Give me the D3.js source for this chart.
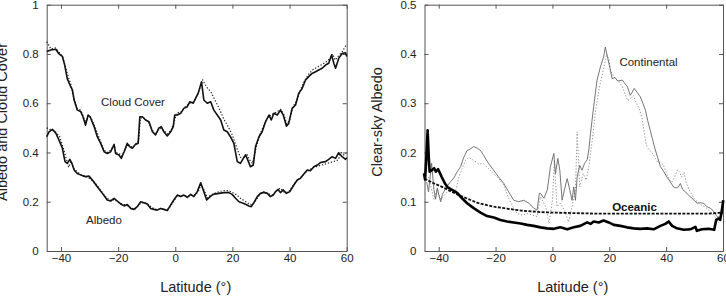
<!DOCTYPE html>
<html><head><meta charset="utf-8">
<script src="https://cdn.jsdelivr.net/npm/d3@7"></script>
<style>
html,body{margin:0;padding:0;background:#fff;}
svg{display:block;font-family:"Liberation Sans",Arial,sans-serif;}
</style></head>
<body>
<svg id="chart" width="726" height="297"></svg>
<script>
// ---------- Left panel data ----------
const cloudSolidLat = [-45,-43.6,-41.8,-40.7,-39.5,-38.7,-37.8,-36.6,-36,-35.4,-34.3,-33.1,-32.3,-31.4,-30.5,-29.8,-28.4,-27.3,-26.1,-24.9,-23.8,-22.6,-21.4,-20.9,-19.7,-18.9,-17.9,-16.8,-16,-15,-13.9,-13,-12.4,-11.5,-10.4,-9.2,-8,-6.9,-5.7,-4.9,-4,-2.8,-1.6,-0.7,-0.2,0.7,1.9,3,4.2,5.1,6.3,7.1,8,9.2,10,11.2,12.4,13.5,14.7,15.9,17,18.2,19.3,20.5,21.7,22.8,23.8,24.6,25.4,26.3,27.3,28.1,29.3,30.4,31.6,32.8,33.6,34.5,35.7,36.8,37.8,38.9,39.7,40.9,42.1,43.2,44.4,45.6,46.7,47.9,49.1,50.2,51.4,52.6,53.7,54.7,55.5,56.1,57.2,58.4,59.6,60];
const cloudSolid = [0.81,0.816,0.819,0.80,0.79,0.755,0.70,0.667,0.654,0.613,0.572,0.566,0.545,0.511,0.552,0.545,0.505,0.464,0.437,0.403,0.396,0.403,0.433,0.396,0.39,0.376,0.403,0.437,0.424,0.417,0.434,0.437,0.545,0.545,0.532,0.525,0.484,0.471,0.50,0.505,0.484,0.467,0.484,0.505,0.552,0.552,0.559,0.579,0.586,0.606,0.60,0.62,0.64,0.687,0.613,0.60,0.606,0.572,0.552,0.532,0.491,0.484,0.464,0.437,0.363,0.356,0.376,0.39,0.369,0.342,0.349,0.424,0.464,0.484,0.525,0.552,0.532,0.559,0.552,0.572,0.552,0.507,0.518,0.579,0.593,0.64,0.66,0.694,0.708,0.721,0.728,0.735,0.742,0.755,0.762,0.796,0.762,0.742,0.782,0.802,0.805,0.79];

const cloudDotLat = [-45,-43.5,-42,-40.5,-39.5,-38.5,-37.5,-36.5,-35.5,-34.3,-33,-32,-31.2,-30.5,-29.5,-28.3,-27,-26,-25,-23.8,-22.6,-21.4,-20.8,-19.5,-18.8,-17.8,-16.8,-15,-13.5,-12.8,-12.2,-11,-9.5,-8,-6.8,-5.5,-4,-2.8,-1.5,-0.5,0.5,2,3.5,5,6.5,8,9.6,11,12.5,14,15.5,17,18.5,20,21.5,22.8,24,25,26,27,28.3,29.5,31,32.5,34,35.5,37,38,39,40,41.2,42.5,43.5,45,46.5,48,49.5,51,52.5,54,55,56,57,58.5,60];
const cloudDot = [0.85,0.82,0.825,0.805,0.79,0.75,0.71,0.675,0.62,0.58,0.57,0.54,0.52,0.55,0.54,0.51,0.47,0.44,0.41,0.40,0.41,0.43,0.40,0.395,0.385,0.405,0.435,0.42,0.435,0.45,0.54,0.54,0.525,0.49,0.475,0.50,0.49,0.475,0.49,0.52,0.56,0.565,0.585,0.60,0.605,0.64,0.695,0.665,0.645,0.61,0.575,0.535,0.505,0.47,0.42,0.38,0.38,0.395,0.37,0.355,0.42,0.47,0.51,0.545,0.555,0.565,0.575,0.555,0.515,0.53,0.585,0.61,0.645,0.685,0.715,0.735,0.745,0.755,0.765,0.78,0.80,0.775,0.79,0.81,0.84];

const albedoSolidLat = [-45,-44.2,-43,-41.8,-40.7,-39.5,-38.6,-37.8,-36.9,-36.2,-35.4,-34.3,-32.5,-31.4,-30.2,-29,-27.3,-25.5,-23.8,-22.6,-21.4,-20.3,-19.1,-17.9,-16.8,-15.6,-14.5,-13.3,-12.1,-11,-9.8,-8.6,-7.5,-6.3,-5.1,-4,-2.8,-1.6,-0.5,0.7,1.9,3,4.2,5.4,6.5,7.7,8.9,10,11,12.4,13.5,15.3,17,18.8,19.9,21.1,22.3,24,25.8,26.6,27.5,28.7,29.8,31,32.2,33.3,34.3,35.1,36,36.8,37.8,38.9,40.1,41.5,42.7,43.8,45,46.2,47.3,48.5,49.7,50.8,52.6,53.7,54.9,56.1,57.2,58.4,59.6,60];
const albedoSolid = [0.464,0.484,0.494,0.478,0.45,0.417,0.363,0.356,0.372,0.356,0.329,0.315,0.306,0.302,0.304,0.288,0.261,0.234,0.207,0.203,0.214,0.203,0.191,0.183,0.189,0.173,0.169,0.18,0.20,0.196,0.191,0.173,0.169,0.166,0.173,0.169,0.164,0.187,0.207,0.227,0.221,0.227,0.218,0.23,0.221,0.241,0.277,0.241,0.207,0.223,0.231,0.234,0.237,0.237,0.23,0.214,0.20,0.193,0.183,0.18,0.196,0.221,0.234,0.238,0.234,0.221,0.227,0.241,0.25,0.237,0.248,0.234,0.241,0.268,0.288,0.295,0.313,0.329,0.326,0.342,0.349,0.359,0.363,0.372,0.383,0.376,0.399,0.383,0.372,0.379];

const albedoDotLat = [-45,-43.5,-42,-40.5,-39.5,-38.5,-37.3,-36.5,-35.5,-34,-32.5,-31,-29.5,-28,-26,-24,-22.5,-21.3,-20,-18.5,-17,-15.5,-14,-12.5,-11,-9.5,-8,-6.5,-5,-3.5,-2.5,-1.5,-0.5,0.8,2,3.2,4.5,5.8,7,8.2,9,10.2,11.2,12.5,14,15.5,17,18.5,20,21.5,23,24.5,26,27,28.2,29.5,31,32.5,34,35.5,36.7,38,39.5,41,42.5,44,45.5,47,48.5,50,51.5,53,54.5,56,57,58,59,60];
const albedoDot = [0.50,0.492,0.485,0.465,0.43,0.39,0.34,0.365,0.335,0.318,0.305,0.302,0.29,0.275,0.245,0.215,0.205,0.21,0.198,0.19,0.185,0.175,0.17,0.19,0.198,0.19,0.175,0.168,0.172,0.168,0.17,0.185,0.205,0.225,0.225,0.225,0.222,0.228,0.228,0.245,0.27,0.245,0.215,0.228,0.235,0.242,0.245,0.245,0.238,0.228,0.212,0.202,0.19,0.188,0.205,0.228,0.24,0.232,0.228,0.245,0.255,0.24,0.238,0.262,0.285,0.30,0.318,0.33,0.34,0.345,0.35,0.355,0.36,0.365,0.37,0.40,0.39,0.40];

// ---------- Right panel data ----------
const oceanSolidLat = [-45.2,-44.8,-44.4,-43.9,-43.5,-43.2,-42.5,-41.6,-41,-40.2,-39,-37.8,-36.8,-35.3,-33.5,-31.8,-30,-27.7,-25.3,-23,-20.6,-18.3,-15.9,-13.6,-11.2,-8.9,-6.6,-4.2,-1.9,0.5,2.8,5.2,7.5,9.8,12.2,13.4,14.5,16.3,18,19.8,21.6,23.9,26.2,28.6,30.9,33.3,35.6,38,39.7,40.9,42.1,43.8,46.2,48.5,50.3,50.8,52.6,54.9,56.9,57.6,58.5,59,59.6,60.1];
const oceanSolid = [0.158,0.145,0.185,0.245,0.19,0.161,0.164,0.168,0.161,0.166,0.151,0.137,0.129,0.124,0.118,0.107,0.097,0.087,0.078,0.071,0.068,0.063,0.06,0.058,0.056,0.053,0.051,0.048,0.046,0.045,0.048,0.044,0.048,0.051,0.058,0.055,0.06,0.058,0.062,0.058,0.053,0.051,0.048,0.046,0.045,0.046,0.044,0.051,0.055,0.06,0.051,0.046,0.043,0.044,0.049,0.041,0.044,0.045,0.043,0.063,0.066,0.063,0.083,0.103];

const oceanDashLat = [-45,-42,-38,-35,-32.3,-29,-26.5,-23,-20.6,-17,-14.8,-11,-8.9,-4,0,7,14.5,25,35,45,55,60];
const oceanDash = [0.147,0.138,0.128,0.119,0.112,0.104,0.098,0.093,0.09,0.087,0.085,0.082,0.081,0.079,0.078,0.077,0.076,0.076,0.076,0.076,0.076,0.078];

const contSolidLat = [-44.2,-43.6,-43,-42.5,-41.7,-41.1,-40.5,-39.9,-39.3,-38.7,-37.5,-35.8,-34.7,-33.5,-32.3,-31.2,-30,-28.9,-27.7,-26.5,-25.3,-24.2,-22.4,-20.7,-18.9,-17.1,-15.4,-13.6,-11.9,-10.1,-8.3,-6.6,-5.4,-4.6,-4.2,-3,-1.8,-0.7,0.5,1.05,1.9,2.6,3.4,4.2,5.2,6.1,6.9,7.5,8.1,8.7,9.6,10.4,11.3,12.2,12.8,13.4,14.5,15.7,16.9,18,18.6,19.5,20.3,21,22,23,24.6,25.5,26.4,27.4,28.8,29.8,30.9,31.8,32.7,33.5,34.4,35.3,36.2,37,38,39,40.3,41.5,42.6,43.5,44.3,45,45.8,46.7,48,49.1,50,50.9,52,53.2,54.3,55.5,56.5,57.9,58.8,59.6,60];
const contSolid = [0.14,0.12,0.15,0.178,0.125,0.105,0.128,0.112,0.10,0.115,0.128,0.141,0.148,0.161,0.171,0.19,0.204,0.207,0.212,0.209,0.204,0.194,0.177,0.164,0.15,0.137,0.12,0.103,0.10,0.103,0.097,0.087,0.083,0.117,0.117,0.107,0.124,0.171,0.198,0.157,0.188,0.164,0.103,0.124,0.147,0.124,0.103,0.13,0.103,0.15,0.174,0.164,0.178,0.185,0.205,0.239,0.293,0.347,0.374,0.394,0.414,0.39,0.37,0.35,0.352,0.345,0.347,0.34,0.333,0.316,0.33,0.322,0.313,0.30,0.286,0.265,0.245,0.225,0.205,0.19,0.171,0.163,0.15,0.14,0.13,0.128,0.13,0.137,0.125,0.12,0.113,0.107,0.102,0.097,0.098,0.097,0.09,0.087,0.082,0.07,0.068,0.077,0.08];

const contDotLat = [-43.6,-42.7,-41.7,-40.5,-39.3,-37.5,-35.8,-34.1,-32.9,-31.8,-30.6,-29.5,-27.7,-26,-24.2,-22.4,-20.7,-18.9,-17.1,-15.6,-14.2,-12.4,-10.7,-8.9,-7.2,-5.4,-4.2,-2.4,-1.2,0,0.7,1.6,2.8,4.2,5.7,6.9,8.1,8.7,9.6,10.8,11.9,12.8,14,15.2,16.4,17,18,19,19.8,20.5,21.5,23,24.5,25.5,26.5,27.5,28.5,29.5,30.5,31.5,32.3,33,34,35,36,37,38,39,40,41,42,43,44,44.7,45.5,46.3,47,48,49,50,52,54,55.5,57,58.5,60];
const contDot = [0.15,0.13,0.105,0.126,0.105,0.117,0.124,0.12,0.15,0.167,0.184,0.19,0.184,0.177,0.177,0.167,0.157,0.147,0.134,0.11,0.093,0.076,0.073,0.076,0.073,0.07,0.11,0.09,0.056,0.103,0.185,0.09,0.097,0.083,0.059,0.09,0.124,0.242,0.13,0.157,0.144,0.171,0.225,0.286,0.327,0.345,0.37,0.40,0.39,0.365,0.355,0.345,0.335,0.32,0.305,0.31,0.315,0.30,0.29,0.27,0.24,0.215,0.205,0.20,0.19,0.18,0.18,0.175,0.16,0.145,0.14,0.15,0.165,0.16,0.15,0.16,0.14,0.125,0.115,0.105,0.095,0.088,0.08,0.07,0.058,0.075];

const xTicks = [-40,-20,0,20,40,60];
const yTicksLeft = [0,0.2,0.4,0.6,0.8,1];
const yTicksRight = [0,0.1,0.2,0.3,0.4,0.5];

// ---------- drawing ----------
const svg = d3.select("#chart");
const FONT = '"Liberation Sans", Arial, sans-serif';
const AXC = "#555";
const plotTop = 4.7, plotBottom = 251;

function panel(x0, x1, yMax, yTicks, yFmt, yLabel, yLabelX) {
  const x = d3.scaleLinear().domain([-45, 60]).range([x0, x1]);
  const y = d3.scaleLinear().domain([0, yMax]).range([plotBottom, plotTop]);
  const g = svg.append("g");
  const style = sel => {
    sel.attr("font-family", FONT).attr("font-size", 11.5);
    sel.selectAll("path.domain").attr("stroke", AXC).attr("stroke-width", 1);
    sel.selectAll(".tick line").attr("stroke", AXC);
    sel.selectAll(".tick text").attr("fill", "#222");
  };
  g.append("g").attr("transform", `translate(0,${plotBottom})`)
    .call(d3.axisBottom(x).tickValues(xTicks).tickSize(-4).tickSizeOuter(0).tickPadding(3).tickFormat(d3.format("d")))
    .call(style);
  g.append("g").attr("transform", `translate(0,${plotTop})`)
    .call(d3.axisTop(x).tickValues(xTicks).tickSize(-4).tickSizeOuter(0).tickFormat(""))
    .call(style);
  g.append("g").attr("transform", `translate(${x0},0)`)
    .call(d3.axisLeft(y).tickValues(yTicks).tickSize(-4).tickSizeOuter(0).tickPadding(8).tickFormat(yFmt))
    .call(style);
  g.append("g").attr("transform", `translate(${x1},0)`)
    .call(d3.axisRight(y).tickValues(yTicks).tickSize(-4).tickSizeOuter(0).tickFormat(""))
    .call(style);
  g.append("text").attr("x", (x0 + x1) / 2 - 1).attr("y", 292)
    .attr("text-anchor", "middle").attr("font-family", FONT).attr("font-size", 14.5).attr("fill", "#222")
    .text("Latitude (°)");
  g.append("text").attr("transform", `translate(${yLabelX},122) rotate(-90)`)
    .attr("text-anchor", "middle").attr("font-family", FONT).attr("font-size", 14.5).attr("fill", "#222")
    .text(yLabel);
  return { x, y, g };
}

function drawLine(p, lats, vals, stroke, width, dash) {
  const pts = lats.map((l, i) => [l, vals[i]]);
  const line = d3.line().x(d => p.x(d[0])).y(d => p.y(d[1]));
  const path = p.g.append("path").datum(pts).attr("d", line)
    .attr("fill", "none").attr("stroke", stroke).attr("stroke-width", width)
    .attr("stroke-linejoin", "round");
  if (dash) path.attr("stroke-dasharray", dash);
}

const fmt1 = d => (d === 0 || d === 1) ? String(d) : d3.format(".1f")(d);
const L = panel(46.7, 346.7, 1, yTicksLeft, fmt1, "Albedo and Cloud Cover", 7);
drawLine(L, cloudDotLat, cloudDot, "#222", 1.2, "1.3,1.8");
drawLine(L, cloudSolidLat, cloudSolid, "#111", 1.6);
drawLine(L, albedoDotLat, albedoDot, "#222", 1.2, "1.3,1.8");
drawLine(L, albedoSolidLat, albedoSolid, "#111", 1.6);
L.g.append("text").attr("x", 133).attr("y", 106).attr("text-anchor", "middle")
  .attr("font-family", FONT).attr("font-size", 11.5).attr("fill", "#222").text("Cloud Cover");
L.g.append("text").attr("x", 104).attr("y", 224).attr("text-anchor", "middle")
  .attr("font-family", FONT).attr("font-size", 11.5).attr("fill", "#222").text("Albedo");

const fmt2 = d => d === 0 ? "0" : d3.format(".1f")(d);
const R = panel(424.5, 723, 0.5, yTicksRight, fmt2, "Clear-sky Albedo", 382);
drawLine(R, contDotLat, contDot, "#8a8a8a", 0.9, "1.3,1.8");
drawLine(R, contSolidLat, contSolid, "#666", 0.9);
drawLine(R, oceanDashLat, oceanDash, "#111", 1.8, "3,1.4");
drawLine(R, oceanSolidLat, oceanSolid, "#000", 2.6);
R.g.append("text").attr("x", 648.5).attr("y", 66).attr("text-anchor", "middle")
  .attr("font-family", FONT).attr("font-size", 11.5).attr("fill", "#222").text("Continental");
R.g.append("text").attr("x", 634.5).attr("y", 210.5).attr("text-anchor", "middle")
  .attr("font-family", FONT).attr("font-size", 11.5).attr("font-weight", "bold").attr("fill", "#111").text("Oceanic");
</script>
</body></html>
